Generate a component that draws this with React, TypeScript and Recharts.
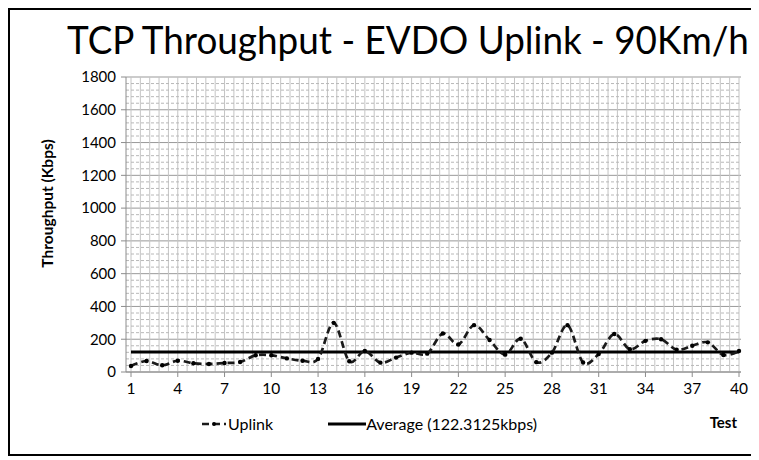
import React from 'react';
import { LineChart, Line, XAxis, YAxis, CartesianGrid, ReferenceLine } from 'recharts';

const tests = [1, 2, 3, 4, 5, 6, 7, 8, 9, 10, 11, 12, 13, 14, 15, 16, 17, 18, 19, 20, 21, 22, 23, 24, 25, 26, 27, 28, 29, 30, 31, 32, 33, 34, 35, 36, 37, 38, 39, 40];
const uplink = [37, 67, 41, 69, 53, 49, 55, 61, 102, 102, 83, 69, 80, 300, 66, 128, 57, 88, 118, 112, 235, 168, 286, 195, 106, 203, 60, 118, 286, 58, 110, 232, 139, 190, 200, 136, 160, 181, 104, 128];
const averageValue = 122.3125;
const yTicks = [0, 200, 400, 600, 800, 1000, 1200, 1400, 1600, 1800];
const xTicks = [1, 4, 7, 10, 13, 16, 19, 22, 25, 28, 31, 34, 37, 40];

const minorY: number[] = [];
for (let v = 40; v < 1800; v += 40) if (v % 200 !== 0) minorY.push(v);
const minorX: number[] = [];
for (let k = 0; k <= 65; k++) minorX.push(Math.round((1 + 0.6 * k) * 1000) / 1000);

const data = tests.map((t, i) => ({ test: t, uplink: uplink[i], avg: averageValue }));

const FONT = 'Lato, "Open Sans", sans-serif';

function catmullRom(context: any) {
  let x0 = NaN, y0 = NaN, x1 = NaN, y1 = NaN, x2 = NaN, y2 = NaN, pt = 0;
  const k = 1 / 6;
  const seg = (x: number, y: number) =>
    context.bezierCurveTo(x1 + k * (x2 - x0), y1 + k * (y2 - y0), x2 + k * (x1 - x), y2 + k * (y1 - y), x2, y2);
  return {
    areaStart() {},
    areaEnd() {},
    lineStart() { x0 = x1 = x2 = y0 = y1 = y2 = NaN; pt = 0; },
    lineEnd() {
      if (pt === 2) context.lineTo(x2, y2);
      else if (pt === 3) seg(x1, y1);
    },
    point(x: number, y: number) {
      x = +x; y = +y;
      if (pt === 0) { pt = 1; context.moveTo(x, y); }
      else if (pt === 1) { pt = 2; x1 = x; y1 = y; }
      else { if (pt === 2) pt = 3; seg(x, y); }
      x0 = x1; x1 = x2; x2 = x;
      y0 = y1; y1 = y2; y2 = y;
    },
  };
}

const YLabel = (props: any) => {
  const vb = props.viewBox || {};
  const cx = vb.x + 21;
  const cy = vb.y + vb.height / 2 - 21;
  return (
    <text x={cx} y={cy} transform={`rotate(-90, ${cx}, ${cy})`} textAnchor="middle" dominantBaseline="central"
      style={{ fontFamily: FONT, fontWeight: 700, fontSize: 15.5, fill: '#000' }}>
      Throughput (Kbps)
    </text>
  );
};

export default function App() {
  return (
    <div style={{ position: 'relative', width: 745, height: 444, border: '2px solid #000', background: '#fff' }}>
      <div style={{ position: 'absolute', left: 398, top: 10, transform: 'translateX(-50%) scaleX(0.957)', whiteSpace: 'nowrap',
        fontFamily: FONT, fontSize: 38.5, lineHeight: '38px', color: '#000' }}>
        TCP Throughput - EVDO Uplink - 90Km/h
      </div>
      <LineChart width={745} height={444} data={data} margin={{ top: 67, right: 14, left: 16, bottom: 22 }}>
        {minorX.map((v) => (
          <ReferenceLine key={'vx' + v} x={v} stroke="#c4c4c4" strokeWidth={1} ifOverflow="hidden" />
        ))}
        {minorY.map((v) => (
          <ReferenceLine key={'my' + v} y={v} stroke="#b8b8b8" strokeDasharray="3 2" strokeWidth={1} />
        ))}
        <CartesianGrid vertical={false} stroke="#999" strokeWidth={1} />
        <XAxis dataKey="test" type="number" domain={[1, 40]} ticks={xTicks} interval={0}
          padding={{ left: 5, right: 2 }} height={60} stroke="#8c8c8c" tickSize={5} tickMargin={6}
          tick={{ fontFamily: FONT, fontSize: 15.5, fill: '#000' }}
          label={{ value: 'Test', position: 'insideBottomRight', offset: 4, style: { fontFamily: FONT, fontWeight: 700, fontSize: 15, fill: '#000' } }} />
        <YAxis type="number" domain={[0, 1800]} ticks={yTicks} interval={0} width={100} stroke="#8c8c8c"
          tickSize={5} tickMargin={5} tick={{ fontFamily: FONT, fontSize: 15, fill: '#000' }}
          label={<YLabel />} />
        <Line dataKey="avg" type="linear" stroke="#000" strokeWidth={3} dot={false} isAnimationActive={false} />
        <Line dataKey="uplink" type={catmullRom as any} stroke="#1a1a1a" strokeWidth={2.7} strokeDasharray="7 4"
          dot={{ r: 2.2, fill: '#000', stroke: 'none' }} isAnimationActive={false} />
      </LineChart>
      <div style={{ position: 'absolute', left: 192, top: 404, display: 'flex', alignItems: 'center',
        fontFamily: FONT, fontSize: 16, color: '#000', whiteSpace: 'nowrap' }}>
        <svg width={24} height={10} style={{ marginRight: 2 }}>
          <line x1={0} y1={5} x2={24} y2={5} stroke="#1a1a1a" strokeWidth={2.5} strokeDasharray="7 4" />
          <circle cx={12} cy={5} r={2} fill="#000" />
        </svg>
        <span>Uplink</span>
        <svg width={38} height={10} style={{ marginLeft: 55, marginRight: 0 }}>
          <line x1={0} y1={5} x2={38} y2={5} stroke="#000" strokeWidth={3} />
        </svg>
        <span>Average (122.3125kbps)</span>
      </div>
    </div>
  );
}
